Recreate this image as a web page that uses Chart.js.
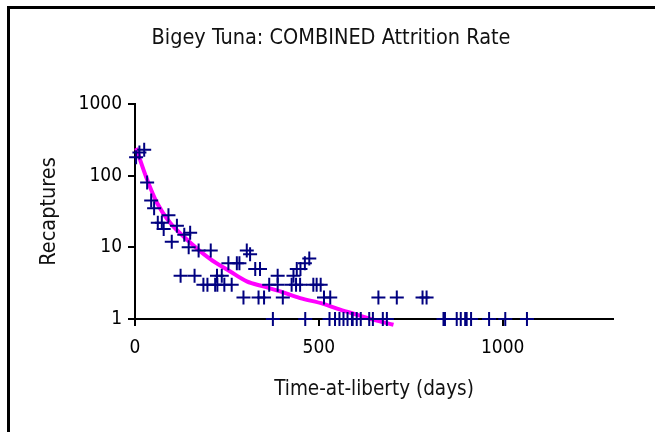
<!DOCTYPE html>
<html>
<head>
<meta charset="utf-8">
<script src="https://cdn.jsdelivr.net/npm/chart.js@4/dist/chart.umd.min.js"></script>
<style>
  html, body { margin: 0; padding: 0; background: #fff; }
  #wrap { position: relative; width: 655px; height: 432px; }
</style>
</head>
<body>
<div id="wrap"><canvas id="c" width="655" height="432"></canvas></div>
<script>
// Recaptures by time-at-liberty (days)
const days = [
  3, 12, 25, 33, 44, 52, 62, 73, 78, 91, 100, 114, 134, 150, 146, 173, 206,
  124, 162, 186, 197, 218, 224, 243, 263, 223, 236, 254, 277, 284,
  295, 304, 313, 327, 340, 336, 351, 365, 388, 426, 438, 388, 402, 431, 440,
  450, 462, 474, 449, 485, 494, 505, 514, 531, 662, 712, 782, 793,
  375, 463, 529, 544, 556, 567, 578, 590, 592, 603, 614, 637, 647, 674, 685,
  839, 843, 875, 886, 898, 902, 914, 963, 1007, 1066
];
const recaptures = [
  180, 210, 230, 80, 45, 35, 22, 22, 18, 28, 12, 20, 15, 16, 10, 9, 9,
  4, 4, 3, 3, 3, 3, 3, 3, 4, 4, 6, 6, 6,
  2, 9, 8, 5, 5, 2, 2, 3, 3, 3, 3, 4, 2, 4, 5,
  5, 6, 7, 3, 3, 3, 3, 2, 2, 2, 2, 2, 2,
  1, 1, 1, 1, 1, 1, 1, 1, 1, 1, 1, 1, 1, 1, 1,
  1, 1, 1, 1, 1, 1, 1, 1, 1, 1
];

// Fitted attrition curve
const fitDays   = [3, 33, 60, 96, 132, 204, 259, 304, 349, 395, 449, 512, 558, 603, 648, 703];
const fitValues = [243, 88, 41.5, 21.8, 14.2, 6.9, 4.6, 3.35, 2.85, 2.43, 1.96, 1.63, 1.35, 1.15, 0.98, 0.83];

const xTicks = [0, 500, 1000];
const yTicks = [1, 10, 100, 1000];
const chartTitle = 'Bigey Tuna: COMBINED Attrition Rate';

const FONT = "'Liberation Sans Narrow', 'Arial Narrow', 'DejaVu Sans Condensed', sans-serif";

// White background, the frame's top and left edges, and the centred heading
const frame = {
  id: 'frame',
  beforeDraw(chart) {
    const ctx = chart.ctx;
    ctx.save();
    ctx.fillStyle = '#fff';
    ctx.fillRect(0, 0, chart.width, chart.height);
    ctx.strokeStyle = '#000';
    ctx.lineWidth = 3;
    ctx.beginPath();
    ctx.moveTo(8.5, chart.height);
    ctx.lineTo(8.5, 7.5);
    ctx.lineTo(chart.width, 7.5);
    ctx.stroke();
    ctx.fillStyle = '#111';
    ctx.font = '21.5px ' + FONT;
    ctx.textAlign = 'center';
    ctx.textBaseline = 'middle';
    ctx.fillText(chartTitle, 331, 38);
    ctx.restore();
  }
};

new Chart(document.getElementById('c'), {
  type: 'scatter',
  data: {
    datasets: [
      {
        label: 'Recaptures',
        data: days.map((d, i) => ({ x: d, y: recaptures[i] })),
        pointStyle: 'cross',
        pointRadius: 7,
        pointBorderWidth: 2,
        borderColor: '#000080',
        backgroundColor: '#000080',
        showLine: false,
        clip: false
      },
      {
        label: 'Fit',
        data: fitDays.map((d, i) => ({ x: d, y: fitValues[i] })),
        showLine: true,
        borderColor: '#FF00FF',
        borderWidth: 4,
        pointRadius: 0,
        cubicInterpolationMode: 'monotone',
        clip: false
      }
    ]
  },
  options: {
    responsive: false,
    animation: false,
    events: [],
    layout: { padding: { left: 0, right: 42, top: 104, bottom: 0 } },
    plugins: {
      legend: { display: false },
      tooltip: { enabled: false },
      title: { display: false }
    },
    scales: {
      x: {
        type: 'linear',
        min: 0,
        max: 1300,
        afterBuildTicks: s => { s.ticks = xTicks.map(v => ({ value: v })); },
        afterFit: s => { s.height = 113; },
        grid: { drawOnChartArea: false, drawTicks: true, tickLength: 7, color: '#000', lineWidth: 2 },
        border: { display: true, color: '#000', width: 2 },
        ticks: { color: '#000', font: { family: FONT, size: 19 }, padding: 11, maxRotation: 0, callback: v => String(v) },
        title: {
          display: true,
          text: 'Time-at-liberty (days)',
          color: '#111',
          font: { family: FONT, size: 20.5, lineHeight: 1.2 },
          padding: { top: 0, bottom: 30 }
        }
      },
      y: {
        type: 'logarithmic',
        min: 1,
        max: 1000,
        afterBuildTicks: s => { s.ticks = yTicks.map(v => ({ value: v })); },
        afterFit: s => { s.width = 135; },
        grid: { drawOnChartArea: false, drawTicks: true, tickLength: 7, color: '#000', lineWidth: 2 },
        border: { display: true, color: '#000', width: 2 },
        ticks: { color: '#000', font: { family: FONT, size: 19 }, padding: 6, callback: v => String(v) },
        title: {
          display: true,
          text: 'Recaptures',
          color: '#111',
          font: { family: FONT, size: 21.5, lineHeight: 1.2 },
          padding: { top: 37, bottom: 0 }
        }
      }
    }
  },
  plugins: [frame]
});
</script>
</body>
</html>
